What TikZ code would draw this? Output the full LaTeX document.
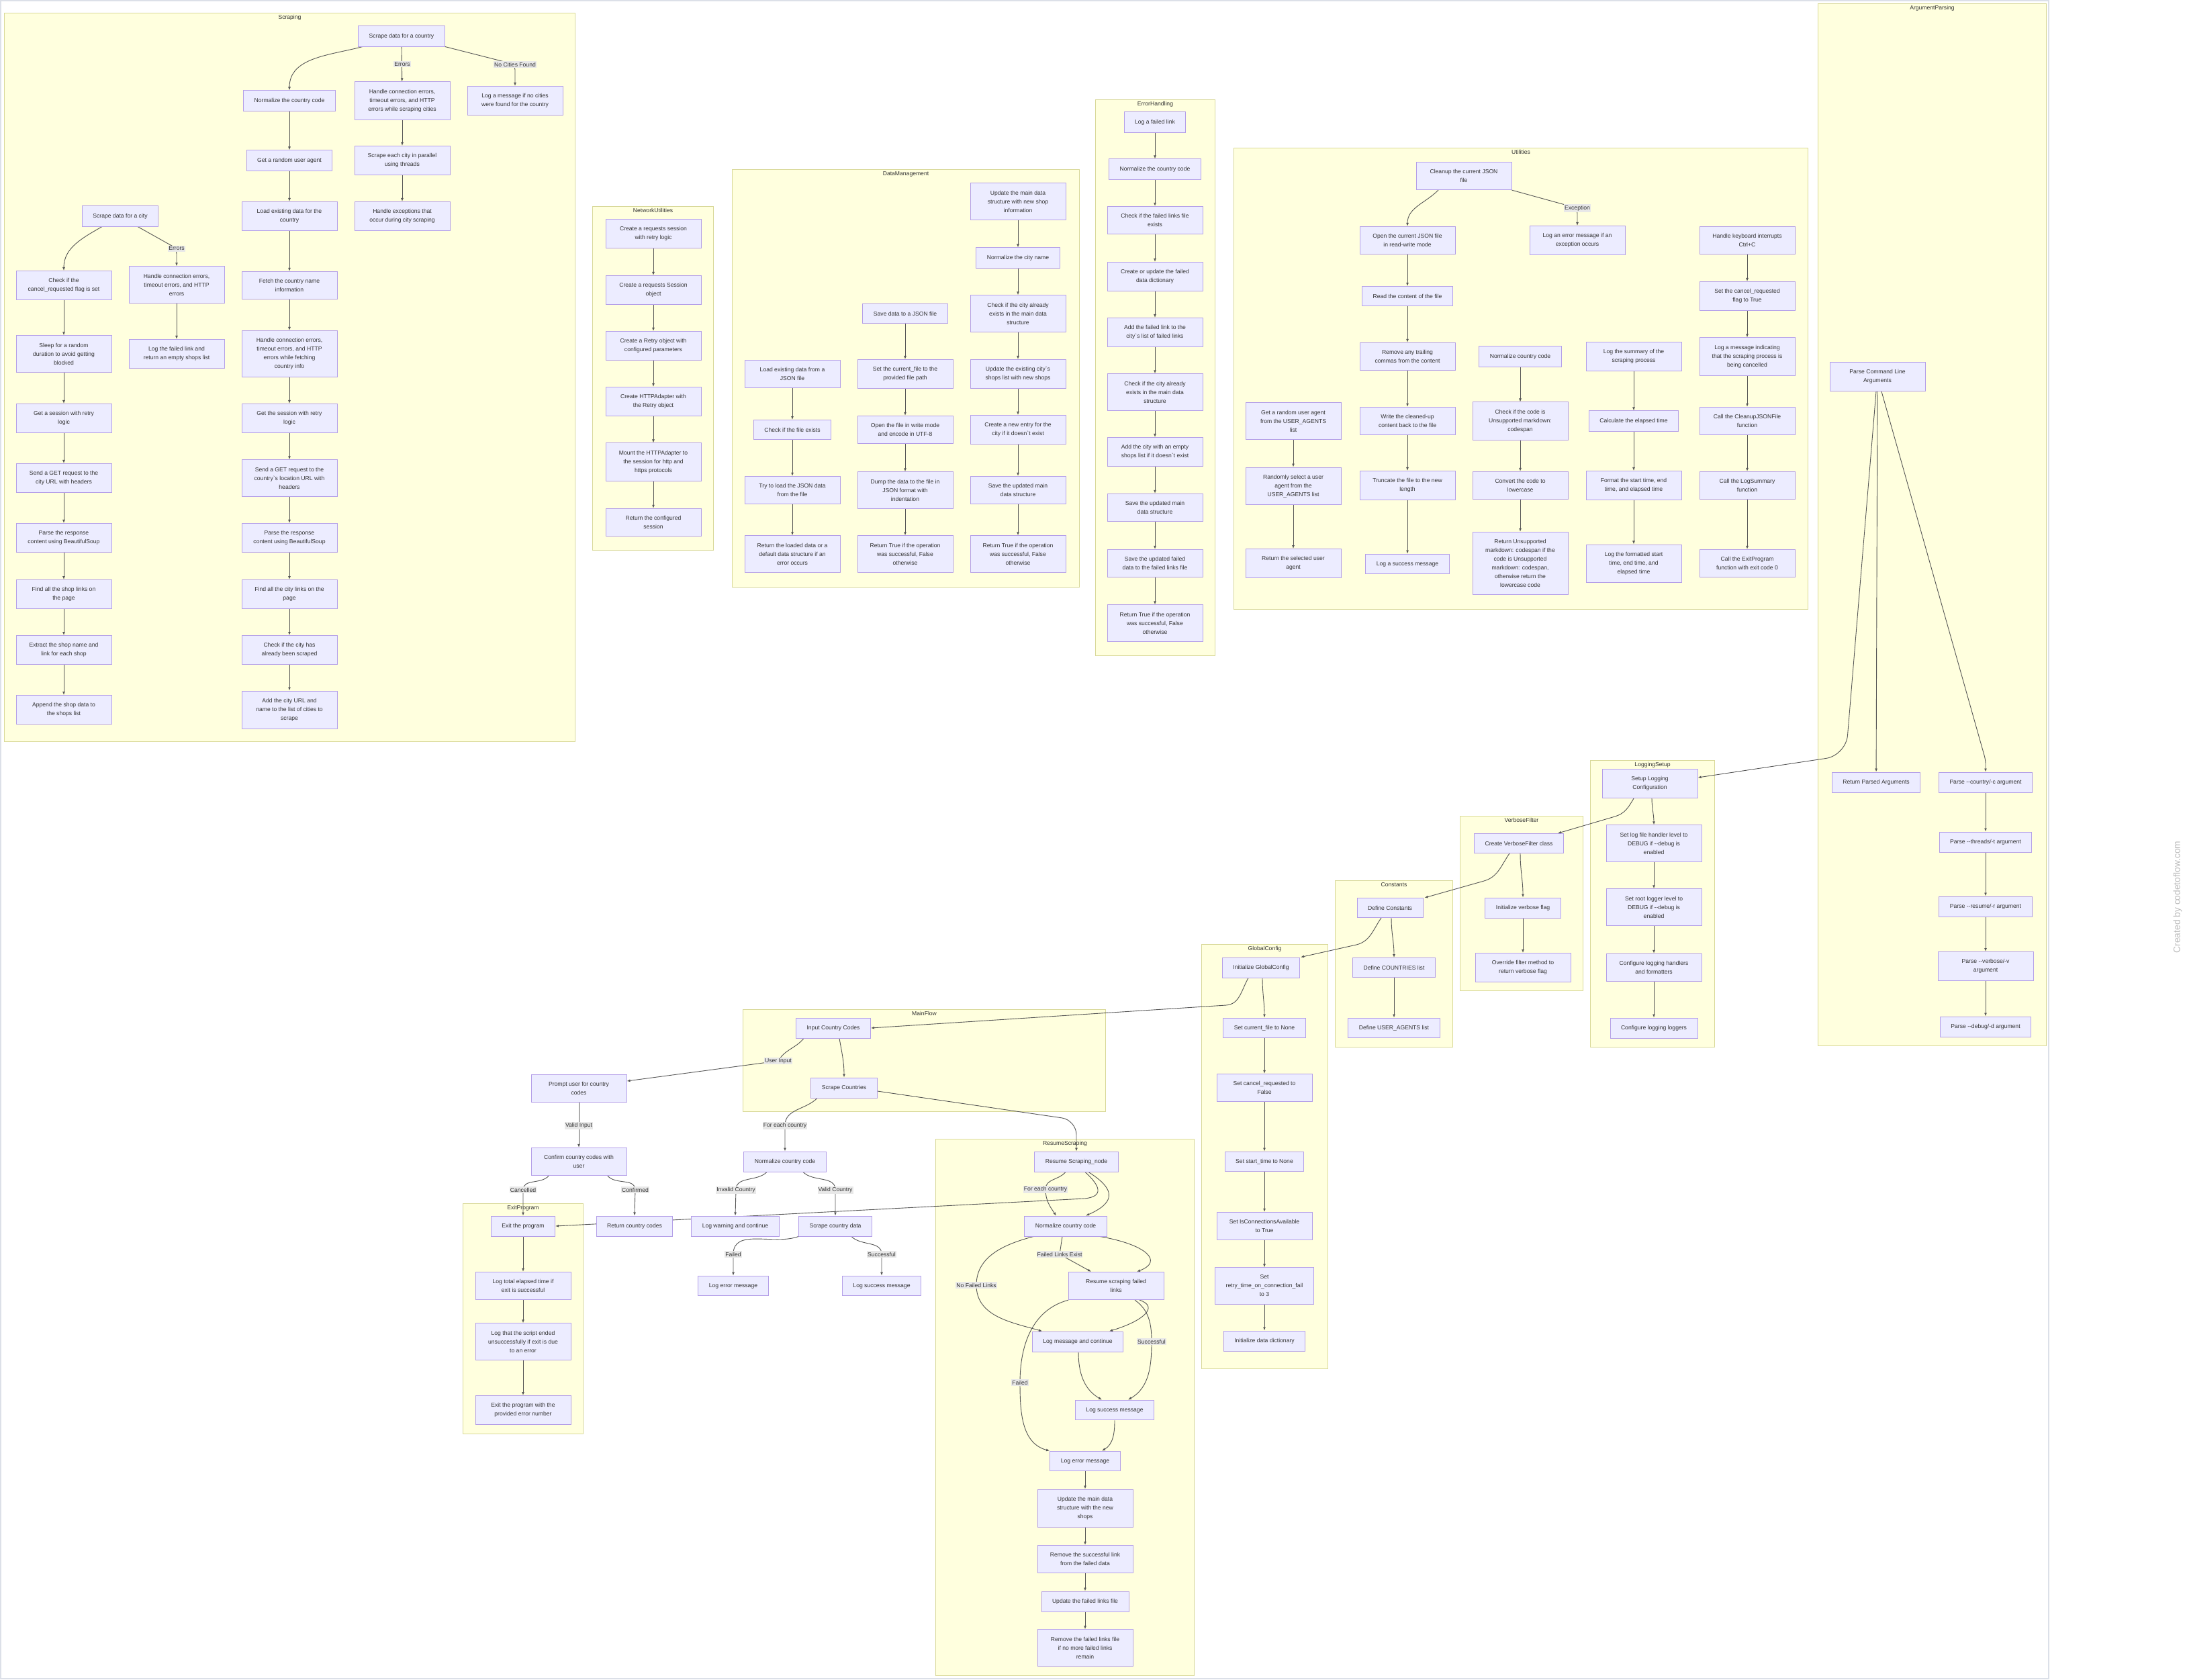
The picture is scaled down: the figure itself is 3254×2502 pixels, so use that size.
\documentclass[tikz,border=0pt]{standalone}
\usepackage{fontspec}
\newfontfamily\diafont{Liberation Sans}
\usetikzlibrary{positioning, arrows.meta}
\definecolor{nodefill}{HTML}{ECECFF}
\definecolor{nodeline}{HTML}{B49FE8}
\definecolor{clusterfill}{HTML}{FFFFDE}
\definecolor{clusterline}{HTML}{D8D898}
\definecolor{textgray}{HTML}{333333}
\definecolor{edgegray}{HTML}{555555}
\definecolor{lblfill}{HTML}{E8E8E8}
\definecolor{framegray}{HTML}{DCE0E8}
\definecolor{markgray}{HTML}{BBBBBB}
\newcommand{\nodefont}{\diafont\fontsize{8.6}{13}\selectfont}
\tikzstyle{proc}=[rectangle, draw=nodeline, fill=nodefill, text=textgray, line width=1pt, align=center, inner xsep=16pt, inner ysep=11pt, minimum height=29pt, font=\nodefont]
\tikzstyle{wide}=[proc, minimum width=142pt]
\tikzstyle{lbl}=[fill=lblfill, text=textgray, inner xsep=1pt, inner ysep=1.5pt, font=\nodefont]
\tikzstyle{cluster}=[rectangle, draw=clusterline, fill=clusterfill, line width=1pt, anchor=north west, inner sep=0pt]
\tikzstyle{ctitle}=[text=textgray, font=\nodefont, inner sep=0pt]
\tikzstyle{arr}=[draw=edgegray, line width=0.9pt, -{Latex[length=5pt,width=4pt]}]
\pgfdeclarelayer{bg}
\pgfdeclarelayer{edges}
\pgfsetlayers{bg,edges,main}

\begin{document}
\begin{tikzpicture}[x=1pt,y=-1pt]
\useasboundingbox (0,0) rectangle (3254,2502);

%frame and subgraphs
\begin{pgfonlayer}{bg}
\draw[framegray, line width=2pt] (1,1) rectangle (3051,2500);
\node[cluster, minimum width=850pt, minimum height=1085pt] (Scraping) at (6,19) {};
\node[cluster, minimum width=180pt, minimum height=512pt] (NetworkUtilities) at (882,307) {};
\node[cluster, minimum width=517pt, minimum height=622pt] (DataManagement) at (1090,252) {};
\node[cluster, minimum width=178pt, minimum height=828pt] (ErrorHandling) at (1631,148) {};
\node[cluster, minimum width=855pt, minimum height=687pt] (Utilities) at (1837,220) {};
\node[cluster, minimum width=340pt, minimum height=1552pt] (ArgumentParsing) at (2707,5) {};
\node[cluster, minimum width=185pt, minimum height=427pt] (LoggingSetup) at (2368,1132) {};
\node[cluster, minimum width=183pt, minimum height=260pt] (VerboseFilter) at (2174,1215) {};
\node[cluster, minimum width=175pt, minimum height=248pt] (Constants) at (1988,1311) {};
\node[cluster, minimum width=188pt, minimum height=632pt] (GlobalConfig) at (1789,1406) {};
\node[cluster, minimum width=540pt, minimum height=152pt] (MainFlow) at (1106,1503) {};
\node[cluster, minimum width=179pt, minimum height=343pt] (ExitProgram) at (689,1792) {};
\node[cluster, minimum width=385pt, minimum height=799pt] (ResumeScraping) at (1393,1696) {};
\foreach \c in {Scraping,NetworkUtilities,DataManagement,ErrorHandling,Utilities,ArgumentParsing,%
  LoggingSetup,VerboseFilter,Constants,GlobalConfig,MainFlow,ExitProgram,ResumeScraping}
  \node[ctitle, below=3pt of \c.north] (t\c) {\c};
\end{pgfonlayer}

%Scraping: country
\node[proc] (sc0) at (598,54) {Scrape data for a country};
\node[proc] (sc1) at (431,150) {Normalize the country code};
\node[proc] (sc2) at (431,239) {Get a random user agent};
\node[wide] (sc3) at (431,322) {Load existing data for the\\country};
\node[wide] (sc4) at (431,425) {Fetch the country name\\information};
\node[wide] (sc5) at (431,527) {Handle connection errors,\\timeout errors, and HTTP\\errors while fetching\\country info};
\node[wide] (sc6) at (431,623) {Get the session with retry\\logic};
\node[wide] (sc7) at (431,712) {Send a GET request to the\\country`s location URL with\\headers};
\node[wide] (sc8) at (431,801) {Parse the response\\content using BeautifulSoup};
\node[wide] (sc9) at (431,885) {Find all the city links on the\\page};
\node[wide] (sc10) at (431,968) {Check if the city has\\already been scraped};
\node[wide] (sc11) at (431,1057) {Add the city URL and\\name to the list of cities to\\scrape};
\node[wide] (se1) at (599,150) {Handle connection errors,\\timeout errors, and HTTP\\errors while scraping cities};
\node[wide] (se2) at (599,239) {Scrape each city in parallel\\using threads};
\node[wide] (se3) at (599,322) {Handle exceptions that\\occur during city scraping};
\node[wide] (sn1) at (767,150) {Log a message if no cities\\were found for the country};
%Scraping: city
\node[proc] (ct0) at (179,322) {Scrape data for a city};
\node[wide] (ct1) at (95,425) {Check if the\\cancel\_requested flag is set};
\node[wide] (ct2) at (95,527) {Sleep for a random\\duration to avoid getting\\blocked};
\node[wide] (ct3) at (95,623) {Get a session with retry\\logic};
\node[wide] (ct4) at (95,712) {Send a GET request to the\\city URL with headers};
\node[wide] (ct5) at (95,801) {Parse the response\\content using BeautifulSoup};
\node[wide] (ct6) at (95,885) {Find all the shop links on\\the page};
\node[wide] (ct7) at (95,968) {Extract the shop name and\\link for each shop};
\node[wide] (ct8) at (95,1057) {Append the shop data to\\the shops list};
\node[wide] (ce1) at (263,424) {Handle connection errors,\\timeout errors, and HTTP\\errors};
\node[wide] (ce2) at (263,527) {Log the failed link and\\return an empty shops list};

%NetworkUtilities
\node[wide] (n1) at (973,348) {Create a requests session\\with retry logic};
\node[wide] (n2) at (973,432) {Create a requests Session\\object};
\node[wide] (n3) at (973,515) {Create a Retry object with\\configured parameters};
\node[wide] (n4) at (973,598) {Create HTTPAdapter with\\the Retry object};
\node[wide] (n5) at (973,688) {Mount the HTTPAdapter to\\the session for http and\\https protocols};
\node[wide] (n6) at (973,778) {Return the configured\\session};

%DataManagement
\node[wide] (d1) at (1180,557) {Load existing data from a\\JSON file};
\node[proc] (d2) at (1180,640) {Check if the file exists};
\node[wide] (d3) at (1180,730) {Try to load the JSON data\\from the file};
\node[wide] (d4) at (1180,825) {Return the loaded data or a\\default data structure if an\\error occurs};
\node[proc] (m1) at (1348,467) {Save data to a JSON file};
\node[wide] (m2) at (1348,557) {Set the current\_file to the\\provided file path};
\node[wide] (m3) at (1348,640) {Open the file in write mode\\and encode in UTF-8};
\node[wide] (m4) at (1348,730) {Dump the data to the file in\\JSON format with\\indentation};
\node[wide] (m5) at (1348,825) {Return True if the operation\\was successful, False\\otherwise};
\node[wide] (u1) at (1516,300) {Update the main data\\structure with new shop\\information};
\node[proc] (u2) at (1516,384) {Normalize the city name};
\node[wide] (u3) at (1516,467) {Check if the city already\\exists in the main data\\structure};
\node[wide] (u4) at (1516,557) {Update the existing city`s\\shops list with new shops};
\node[wide] (u5) at (1516,640) {Create a new entry for the\\city if it doesn`t exist};
\node[wide] (u6) at (1516,730) {Save the updated main\\data structure};
\node[wide] (u7) at (1516,825) {Return True if the operation\\was successful, False\\otherwise};

%ErrorHandling
\node[proc] (e1) at (1720,182) {Log a failed link};
\node[proc] (e2) at (1720,252) {Normalize the country code};
\node[wide] (e3) at (1720,328) {Check if the failed links file\\exists};
\node[wide] (e4) at (1720,412) {Create or update the failed\\data dictionary};
\node[wide] (e5) at (1720,495) {Add the failed link to the\\city`s list of failed links};
\node[wide] (e6) at (1720,584) {Check if the city already\\exists in the main data\\structure};
\node[wide] (e7) at (1720,673) {Add the city with an empty\\shops list if it doesn`t exist};
\node[wide] (e8) at (1720,756) {Save the updated main\\data structure};
\node[wide] (e9) at (1720,839) {Save the updated failed\\data to the failed links file};
\node[wide] (e10) at (1720,928) {Return True if the operation\\was successful, False\\otherwise};

%Utilities
\node[wide] (t0) at (2180,262) {Cleanup the current JSON\\file};
\node[wide] (t1) at (2096,358) {Open the current JSON file\\in read-write mode};
\node[wide] (tx) at (2349,358) {Log an error message if an\\exception occurs};
\node[proc] (t2) at (2096,441) {Read the content of the file};
\node[wide] (t3) at (2096,531) {Remove any trailing\\commas from the content};
\node[wide] (t4) at (2096,627) {Write the cleaned-up\\content back to the file};
\node[wide] (t5) at (2096,723) {Truncate the file to the new\\length};
\node[proc] (t6) at (2096,840) {Log a success message};
\node[wide] (a1) at (1926,627) {Get a random user agent\\from the USER\_AGENTS\\list};
\node[wide] (a2) at (1926,724) {Randomly select a user\\agent from the\\USER\_AGENTS list};
\node[wide] (a3) at (1926,839) {Return the selected user\\agent};
\node[proc] (k1) at (2264,531) {Normalize country code};
\node[wide] (k2) at (2264,627) {Check if the code is\\Unsupported markdown:\\codespan};
\node[wide] (k3) at (2264,723) {Convert the code to\\lowercase};
\node[wide] (k4) at (2264,839) {Return Unsupported\\markdown: codespan if the\\code is Unsupported\\markdown: codespan,\\otherwise return the\\lowercase code};
\node[wide] (g1) at (2433,531) {Log the summary of the\\scraping process};
\node[proc] (g2) at (2433,627) {Calculate the elapsed time};
\node[wide] (g3) at (2433,723) {Format the start time, end\\time, and elapsed time};
\node[wide] (g4) at (2433,839) {Log the formatted start\\time, end time, and\\elapsed time};
\node[wide] (h1) at (2602,358) {Handle keyboard interrupts\\Ctrl+C};
\node[wide] (h2) at (2602,441) {Set the cancel\_requested\\flag to True};
\node[wide] (h3) at (2602,531) {Log a message indicating\\that the scraping process is\\being cancelled};
\node[wide] (h4) at (2602,627) {Call the CleanupJSONFile\\function};
\node[wide] (h5) at (2602,723) {Call the LogSummary\\function};
\node[wide] (h6) at (2602,839) {Call the ExitProgram\\function with exit code 0};

%ArgumentParsing
\node[wide] (p0) at (2796,561) {Parse Command Line\\Arguments};
\node[proc] (p1) at (2794,1165) {Return Parsed Arguments};
\node[proc] (p2) at (2957,1165) {Parse --country/-c argument};
\node[proc] (p3) at (2957,1254) {Parse --threads/-t argument};
\node[proc] (p4) at (2957,1350) {Parse --resume/-r argument};
\node[wide] (p5) at (2957,1439) {Parse --verbose/-v\\argument};
\node[proc] (p6) at (2957,1529) {Parse --debug/-d argument};

%LoggingSetup, VerboseFilter, Constants, GlobalConfig
\node[wide] (ls0) at (2457,1167) {Setup Logging\\Configuration};
\node[wide] (ls1) at (2463,1256) {Set log file handler level to\\DEBUG if --debug is\\enabled};
\node[wide] (ls2) at (2463,1351) {Set root logger level to\\DEBUG if --debug is\\enabled};
\node[wide] (ls3) at (2463,1441) {Configure logging handlers\\and formatters};
\node[proc] (ls4) at (2463,1531) {Configure logging loggers};
\node[proc] (vf0) at (2262,1256) {Create VerboseFilter class};
\node[proc] (vf1) at (2268,1352) {Initialize verbose flag};
\node[wide] (vf2) at (2268,1441) {Override filter method to\\return verbose flag};
\node[proc] (c0) at (2070,1352) {Define Constants};
\node[proc] (c1) at (2076,1441) {Define COUNTRIES list};
\node[proc] (c2) at (2076,1531) {Define USER\_AGENTS list};
\node[proc] (gc0) at (1878,1441) {Initialize GlobalConfig};
\node[proc] (gc1) at (1883,1531) {Set current\_file to None};
\node[wide] (gc2) at (1883,1620) {Set cancel\_requested to\\False};
\node[proc] (gc3) at (1883,1730) {Set start\_time to None};
\node[wide] (gc4) at (1883,1826) {Set IsConnectionsAvailable\\to True};
\node[wide] (gc5) at (1883,1915) {Set\\retry\_time\_on\_connection\_fail\\to 3};
\node[proc] (gc6) at (1883,1997) {Initialize data dictionary};

%MainFlow and ExitProgram
\node[proc] (mf0) at (1241,1531) {Input Country Codes};
\node[proc] (mf1) at (1257,1620) {Scrape Countries};
\node[wide] (mf2) at (862,1621) {Prompt user for country\\codes};
\node[wide] (mf3) at (862,1730) {Confirm country codes with\\user};
\node[proc] (mf4) at (945,1826) {Return country codes};
\node[proc] (mf5) at (1169,1730) {Normalize country code};
\node[proc] (mf6) at (1095,1826) {Log warning and continue};
\node[proc] (mf7) at (1244,1826) {Scrape country data};
\node[proc] (mf8) at (1092,1915) {Log error message};
\node[proc] (mf9) at (1313,1915) {Log success message};
\node[proc] (x0) at (779,1826) {Exit the program};
\node[wide] (x1) at (779,1915) {Log total elapsed time if\\exit is successful};
\node[wide] (x2) at (779,1998) {Log that the script ended\\unsuccessfully if exit is due\\to an error};
\node[wide] (x3) at (779,2100) {Exit the program with the\\provided error number};

%ResumeScraping
\node[proc] (r0) at (1603,1730) {Resume Scraping\_node};
\node[proc] (r1) at (1587,1826) {Normalize country code};
\node[wide] (r2) at (1662,1915) {Resume scraping failed\\links};
\node[proc] (r3) at (1605,1998) {Log message and continue};
\node[proc] (r4) at (1660,2100) {Log success message};
\node[proc] (r5) at (1616,2176) {Log error message};
\node[wide] (r6) at (1616,2246) {Update the main data\\structure with the new\\shops};
\node[wide] (r7) at (1616,2322) {Remove the successful link\\from the failed data};
\node[proc] (r8) at (1616,2385) {Update the failed links file};
\node[wide] (r9) at (1616,2454) {Remove the failed links file\\if no more failed links\\remain};

%edge labels
\node[lbl] (l_sc_err) at (599,96) {Errors};
\node[lbl] (l_sc_none) at (767,96) {No Cities Found};
\node[lbl] (l_ct_err) at (263,370) {Errors};
\node[lbl] (l_exc) at (2349,310) {Exception};
\node[lbl] (l_ui) at (1159,1580) {User Input};
\node[lbl] (l_vi) at (862,1676) {Valid Input};
\node[lbl] (l_can) at (779,1772) {Cancelled};
\node[lbl] (l_conf) at (946,1772) {Confirmed};
\node[lbl] (l_fec) at (1169,1676) {For each country};
\node[lbl] (l_inv) at (1096,1772) {Invalid Country};
\node[lbl] (l_val) at (1244,1772) {Valid Country};
\node[lbl] (l_fail) at (1092,1868) {Failed};
\node[lbl] (l_succ) at (1313,1868) {Successful};
\node[lbl] (l_rfec) at (1557,1771) {For each country};
\node[lbl] (l_rfle) at (1578,1868) {Failed Links Exist};
\node[lbl] (l_rnfl) at (1454,1914) {No Failed Links};
\node[lbl] (l_rsucc) at (1715,1998) {Successful};
\node[lbl] (l_rfail) at (1519,2059) {Failed};

%bends of the long connectors
\coordinate (w_pl) at (2749,1125);
\coordinate (w_pc) at (2957,1132);
\coordinate (w_lv) at (2405,1216);
\coordinate (w_vc) at (2210,1312);
\coordinate (w_cg) at (2020,1407);
\coordinate (w_gm) at (1826,1497);
\coordinate (w_mr) at (1603,1668);
\coordinate (w_rx) at (1615,1785);

\node[rotate=90, text=markgray, font=\diafont\fontsize{13.8}{16}\selectfont] (mark) at (3243,1336) {Created by codetoflow.com};

\begin{pgfonlayer}{edges}
%straight steps
\foreach \a/\b in {sc0/se1,sc1/sc2,sc2/sc3,sc3/sc4,sc4/sc5,sc5/sc6,sc6/sc7,sc7/sc8,sc8/sc9,sc9/sc10,sc10/sc11,%
  se1/se2,se2/se3,ct1/ct2,ct2/ct3,ct3/ct4,ct4/ct5,ct5/ct6,ct6/ct7,ct7/ct8,ce1/ce2,%
  n1/n2,n2/n3,n3/n4,n4/n5,n5/n6,d1/d2,d2/d3,d3/d4,m1/m2,m2/m3,m3/m4,m4/m5,%
  u1/u2,u2/u3,u3/u4,u4/u5,u5/u6,u6/u7,e1/e2,e2/e3,e3/e4,e4/e5,e5/e6,e6/e7,e7/e8,e8/e9,e9/e10,%
  t1/t2,t2/t3,t3/t4,t4/t5,t5/t6,a1/a2,a2/a3,k1/k2,k2/k3,k3/k4,g1/g2,g2/g3,g3/g4,%
  h1/h2,h2/h3,h3/h4,h4/h5,h5/h6,p0/p1,p2/p3,p3/p4,p4/p5,p5/p6,ls1/ls2,ls2/ls3,ls3/ls4,%
  vf1/vf2,c1/c2,gc1/gc2,gc2/gc3,gc3/gc4,gc4/gc5,gc5/gc6,mf2/mf3,x0/x1,x1/x2,x2/x3,%
  r5/r6,r6/r7,r7/r8,r8/r9}
  \draw[arr] (\a) -- (\b);
%branches
\draw[arr] ([xshift=-58pt]sc0.south) to[out=195,in=90] (sc1.north);
\draw[arr, rounded corners=8pt] (sc0.south east) -- (l_sc_none.center) -- (sn1.north);
\draw[arr] ([xshift=-27pt]ct0.south) to[out=-150,in=90] (ct1.north);
\draw[arr, rounded corners=8pt] ([xshift=26pt]ct0.south) -- (l_ct_err.center) -- (ce1.north);
\draw[arr] ([xshift=-38pt]t0.south) to[out=-135,in=90] (t1.north);
\draw[arr, rounded corners=8pt] (t0.south east) -- (l_exc.center) -- (tx.north);
%one subgraph to the next
\draw[arr, rounded corners=30pt] ([xshift=-2pt]p0.south) -- (w_pl) -- ([yshift=9pt]ls0.east);
\draw[arr, rounded corners=6pt] ([xshift=6pt]p0.south) -- (w_pc) -- (p2.north);
\draw[arr] ([xshift=-24pt]ls0.south) to[out=-120,in=16] (w_lv) -- ([xshift=-9pt]vf0.north east);
\draw[arr] ([xshift=3pt]ls0.south) to[out=-90,in=90] (ls1.north);
\draw[arr] ([xshift=-14pt]vf0.south) to[out=-125,in=16] (w_vc) -- ([xshift=2pt]c0.north east);
\draw[arr] ([xshift=2pt]vf0.south) to[out=-90,in=90] (vf1.north);
\draw[arr] ([xshift=-13pt]c0.south) to[out=-125,in=14] (w_cg) -- ([xshift=1pt]gc0.north east);
\draw[arr] ([xshift=2pt]c0.south) to[out=-90,in=90] (c1.north);
\draw[arr] ([xshift=-19pt]gc0.south) to[out=-120,in=4] (w_gm) -- (mf0.east);
\draw[arr] ([xshift=2pt]gc0.south) to[out=-90,in=90] (gc1.north);
%main flow
\draw[arr] ([xshift=-44pt]mf0.south) to[out=-130,in=60] (l_ui.center) -- ([yshift=11pt]mf2.east);
\draw[arr] ([xshift=9pt]mf0.south) to[out=-80,in=90] (mf1.north);
\draw[arr] ([xshift=-40pt]mf1.south) to[out=-135,in=90] (l_fec.center) -- (mf5.north);
\draw[arr, rounded corners=22pt] ([yshift=-5pt]mf1.east) -- (w_mr) -- (r0.north);
\draw[arr] ([xshift=-45pt]mf3.south) to[out=-130,in=90] (l_can.center) -- (x0.north);
\draw[arr] ([xshift=43pt]mf3.south) to[out=-50,in=90] (l_conf.center) -- (mf4.north);
\draw[arr] ([xshift=-27pt]mf5.south) to[out=-135,in=90] (l_inv.center) -- (mf6.north);
\draw[arr] ([xshift=27pt]mf5.south) to[out=-45,in=90] (l_val.center) -- (mf7.north);
\draw[arr] (mf7.south west) to[out=-160,in=90] (l_fail.center) -- (mf8.north);
\draw[arr] ([xshift=24pt]mf7.south) to[out=-45,in=90] (l_succ.center) -- (mf9.north);
%resume scraping
\draw[arr] ([xshift=-16pt]r0.south) to[out=-130,in=90] (l_rfec.center) to[out=-90,in=125] ([xshift=-14pt]r1.north);
\draw[arr] ([xshift=18pt]r0.south) .. controls +(35,22) and +(50,-22) .. ([xshift=30pt]r1.north);
\draw[arr] ([xshift=13pt]r0.south) .. controls +(22,20) and +(30,-3) .. (w_rx) -- (x0.east);
\draw[arr, rounded corners=6pt] ([xshift=-5pt]r1.south) -- (l_rfle.center) -- ([xshift=-37pt]r2.north);
\draw[arr] ([xshift=-48pt]r1.south) to[out=-165,in=90] (l_rnfl.center) to[out=-90,in=164] ([xshift=-53pt]r3.north);
\draw[arr] ([xshift=51pt]r1.south) .. controls +(70,12) and +(40,-15) .. ([xshift=31pt]r2.north);
\draw[arr] ([xshift=35pt]r2.south) .. controls +(30,10) and +(50,-15) .. ([xshift=47pt]r3.north);
\draw[arr] ([xshift=28pt]r2.south) to[out=-35,in=90] (l_rsucc.center) to[out=-90,in=30] ([xshift=20pt]r4.north);
\draw[arr] ([xshift=-71pt]r2.south) to[out=-165,in=90] (l_rfail.center) to[out=-90,in=165] ([xshift=-53pt]r5.north);
\draw[arr] ([xshift=1pt]r3.south) to[out=-90,in=150] ([xshift=-19pt]r4.north);
\draw[arr] (r4.south) to[out=-90,in=30] ([xshift=25pt]r5.north);
\end{pgfonlayer}
\end{tikzpicture}
\end{document}
